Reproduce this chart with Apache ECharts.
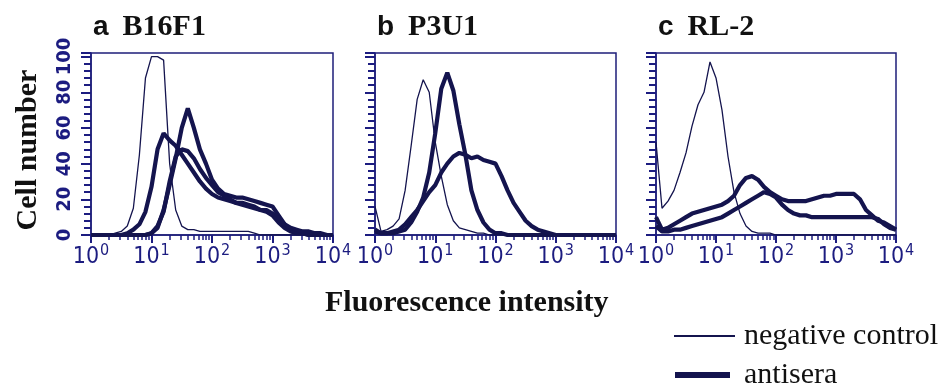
<!DOCTYPE html>
<html><head><meta charset="utf-8">
<script src="https://cdn.jsdelivr.net/npm/echarts@6/dist/echarts.min.js"></script>
<style>html,body{margin:0;padding:0;background:#fff}#c{width:942px;height:385px}</style>
</head><body><div id="c"></div>
<script>
// log10 of fluorescence intensity (channel positions)
const logX = [0,0.1,0.2,0.3,0.4,0.5,0.6,0.7,0.8,0.9,1.0,1.1,1.2,1.3,1.4,1.5,1.6,1.7,1.8,1.9,2.0,2.1,2.2,2.3,2.4,2.5,2.6,2.7,2.8,2.9,3.0,3.1,3.2,3.3,3.4,3.5,3.6,3.7,3.8,3.9,4.0];
const panelLetters = ['a','b','c'];
const panelNames = ['B16F1','P3U1','RL-2'];
const xTickExponents = [0,1,2,3,4];
const yTickLabels = [0,20,40,60,80,100];
const xMajorTicks = [1,10,100,1000,10000];
const xMinorTicks = [2,3,4,5,6,7,8,9,20,30,40,50,60,70,80,90,200,300,400,500,600,700,800,900,2000,3000,4000,5000,6000,7000,8000,9000];
const legendNames = ['negative control','antisera'];
const xAxisTitle = 'Fluorescence intensity';
const yAxisTitle = 'Cell number';

// a  B16F1
const aNeg   = [0,0,0,0,1,2,5,15,45,88,100,100,98,40,14,5,3,3,2,2,2,2,2,2,2,2,2,1,0,0,0,0,0,0,0,0,0,0,0,0,0];
const aAnti1 = [0,0,0,0,0,0,1,3,6,13,27,48,57,53,50,45,40,35,30,26,23,21,20,19,18,18,17,16,14,13,11,7,4,2,1,1,0,0,0,0,0];
const aAnti2 = [0,0,0,0,0,0,0,0,0,0,1,4,14,28,43,60,71,60,48,40,31,26,23,22,21,21,20,19,18,17,16,11,6,3,1,1,0,0,0,0,0];
const aAnti3 = [0,0,0,0,0,0,0,0,0,0,1,5,13,30,44,48,47,43,37,32,28,24,22,20,18,17,16,15,14,14,12,9,6,4,3,2,2,1,1,0,0];
// b  P3U1
const bNeg   = [16,2,3,5,9,25,50,76,87,80,52,33,17,8,4,3,2,1,1,0,0,0,0,0,0,0,0,0,0,0,0,0,0,0,0,0,0,0,0,0,0];
const bAnti1 = [2,1,1,1,2,3,7,13,21,35,57,82,91,81,62,45,25,14,7,3,1,1,0,0,0,0,0,0,0,0,0,0,0,0,0,0,0,0,0,0,0];
const bAnti2 = [3,1,1,2,3,6,10,14,19,24,28,35,40,44,46,45,43,44,42,41,40,33,25,18,13,8,5,3,2,1,0,0,0,0,0,0,0,0,0,0,0];
// c  RL-2
const cNeg   = [52,15,19,25,35,46,61,73,80,97,88,70,44,24,12,5,2,1,1,1,0,0,0,0,0,0,0,0,0,0,0,0,0,0,0,0,0,0,0,0,0];
const cAnti1 = [10,3,4,6,8,10,12,13,14,15,16,17,19,22,28,32,33,31,27,24,22,20,19,19,19,19,20,21,22,22,23,23,23,23,20,14,11,8,7,5,3];
const cAnti2 = [5,2,2,3,3,4,5,6,7,8,9,10,12,14,16,18,20,22,24,23,21,17,14,12,11,11,10,10,10,10,10,10,10,10,10,10,10,9,6,4,3];

const panels = [
  {neg: aNeg, anti: [aAnti1, aAnti2, aAnti3]},
  {neg: bNeg, anti: [bAnti1, bAnti2]},
  {neg: cNeg, anti: [cAnti1, cAnti2]}
];

const LINE = '#14144e';
const BOX = '#1e1e7a';
const TICKC = '#1c1c80';
const gridBoxes = [
  {left: 91, top: 53, width: 242, height: 182},
  {left: 375, top: 53, width: 241, height: 182},
  {left: 656, top: 53, width: 240, height: 182}
];

const toPts = ys => logX.map((e, i) => [Math.pow(10, e), ys[i]]);
const NARROW = '"Liberation Sans Narrow", "DejaVu Sans Condensed", Arial';
const SERIF = '"Liberation Serif", "Times New Roman", serif';

const grid = [], xAxis = [], yAxis = [], series = [], title = [];
panels.forEach((p, i) => {
  grid.push(Object.assign({show: true, borderColor: BOX, borderWidth: 1.5}, gridBoxes[i]));
  xAxis.push({
    type: 'log', min: 1, max: 10000, gridIndex: i,
    axisLine: {show: true, lineStyle: {color: BOX, width: 1.5}},
    axisTick: {show: true, length: 8, customValues: xMajorTicks, lineStyle: {color: TICKC, width: 2}},
    splitLine: {show: false},
    axisLabel: {
      show: true, margin: 10, color: TICKC,
      formatter: v => {
        const ex = xTickExponents[Math.round(Math.log10(v))];
        return '{b|10}{s|' + ex + '}';
      },
      rich: {
        b: {fontFamily: NARROW, fontSize: 23, color: TICKC, verticalAlign: 'bottom', lineHeight: 24},
        s: {fontFamily: NARROW, fontSize: 16, color: TICKC, verticalAlign: 'bottom', lineHeight: 16, padding: [0, 0, 10, 1]}
      }
    }
  });
  xAxis.push({
    type: 'log', min: 1, max: 10000, gridIndex: i, position: 'bottom', offset: 0,
    axisLine: {show: false},
    axisTick: {show: true, length: 5, customValues: xMinorTicks, lineStyle: {color: TICKC, width: 1.5}},
    axisLabel: {show: false},
    splitLine: {show: false}
  });
  yAxis.push({
    type: 'value', min: 0, max: 102, interval: 20, gridIndex: i,
    axisLine: {show: true, lineStyle: {color: BOX, width: 1.5}},
    axisTick: {show: true, length: 10, lineStyle: {color: TICKC, width: 2}},
    minorTick: {show: true, splitNumber: 5, length: 7, lineStyle: {color: TICKC, width: 2}},
    splitLine: {show: false},
    axisLabel: {
      show: i === 0, rotate: 90, margin: 16, color: TICKC,
      fontFamily: NARROW, fontWeight: 'bold', fontSize: 20,
      formatter: v => (yTickLabels.indexOf(v) >= 0 ? String(v) : '')
    },
    name: i === 0 ? yAxisTitle : '',
    nameLocation: 'middle', nameGap: 48, nameRotate: 90,
    nameTextStyle: {fontFamily: SERIF, fontWeight: 'bold', fontSize: 30, color: '#111', padding: [0, 12, 0, 0]}
  });
  series.push({
    type: 'line', name: legendNames[0], xAxisIndex: 2 * i, yAxisIndex: i,
    data: toPts(p.neg), symbol: 'none', lineStyle: {color: LINE, width: 1.3}, itemStyle: {color: LINE}, z: 3
  });
  p.anti.forEach(arr => series.push({
    type: 'line', name: legendNames[1], xAxisIndex: 2 * i, yAxisIndex: i,
    data: toPts(arr), symbol: 'none', lineStyle: {color: LINE, width: 4.2}, itemStyle: {color: LINE}, z: 2
  }));
  title.push({
    text: '{l|' + panelLetters[i] + '}  {n|' + panelNames[i] + '}',
    left: gridBoxes[i].left + 2, top: 12, padding: 0,
    textStyle: {
      fontSize: 28, fontFamily: SERIF, fontWeight: 'bold', color: '#111',
      rich: {
        l: {fontFamily: '"Liberation Sans", Arial, sans-serif', fontWeight: 'bold', fontSize: 28, color: '#111'},
        n: {fontFamily: SERIF, fontWeight: 'bold', fontSize: 30, color: '#111'}
      }
    }
  });
});
title.push({
  text: xAxisTitle, left: 325, top: 288, padding: 0,
  textStyle: {fontFamily: SERIF, fontWeight: 'bold', fontSize: 30, color: '#111'}
});

const chart = echarts.init(document.getElementById('c'));
chart.setOption({
  animation: false,
  title, grid, xAxis, yAxis, series,
  legend: [
    {data: [legendNames[0]], left: 674, top: 321, padding: 0, icon: 'rect', itemWidth: 61, itemHeight: 2, selectedMode: false,
     textStyle: {fontFamily: SERIF, fontSize: 30, color: '#111', padding: [0, 0, 14, 4]}},
    {data: [legendNames[1]], left: 675, top: 360, padding: 0, icon: 'rect', itemWidth: 55, itemHeight: 6, selectedMode: false,
     textStyle: {fontFamily: SERIF, fontSize: 30, color: '#111', padding: [0, 0, 10, 9]}}
  ]
});
</script></body></html>
